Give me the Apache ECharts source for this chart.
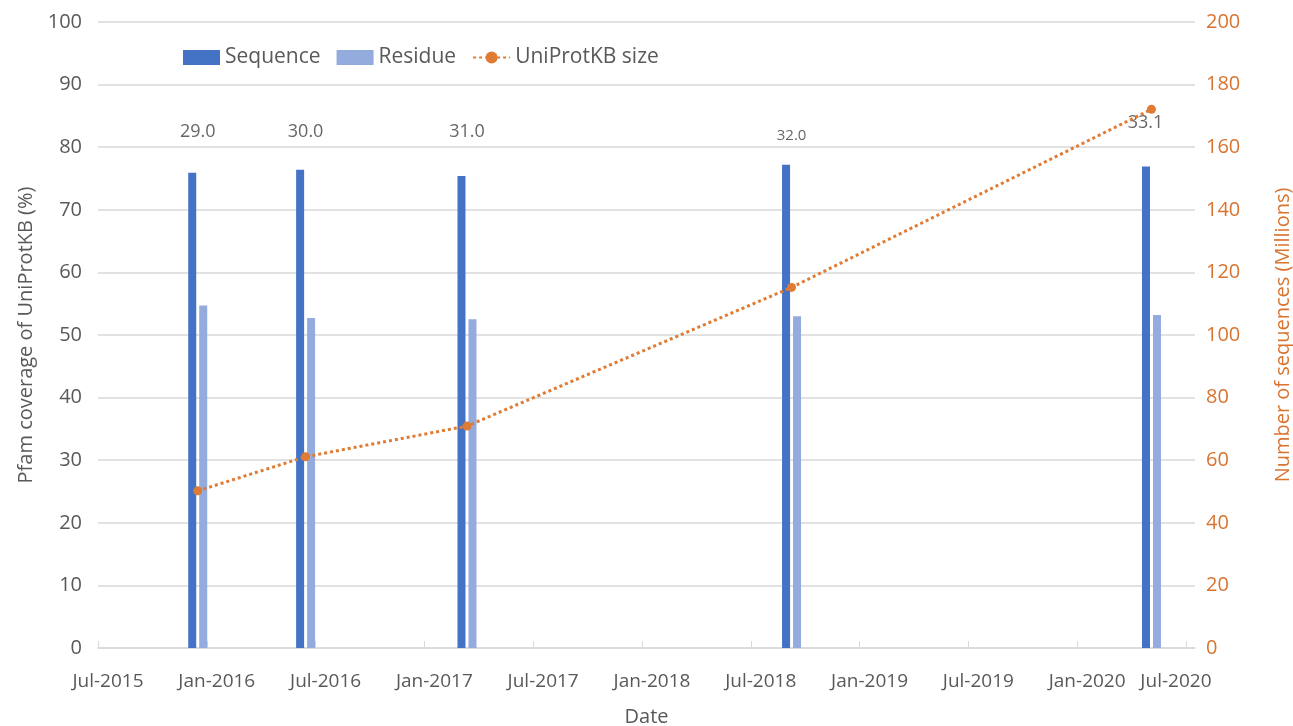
<!DOCTYPE html>
<html>
<head>
<meta charset="utf-8">
<script src="https://cdn.jsdelivr.net/npm/echarts@6/dist/echarts.min.js"></script>
<style>
  html, body { margin: 0; padding: 0; background: #fff; }
  #chart { width: 1293px; height: 726px; }
</style>
</head>
<body>
<div id="chart"></div>
<script>
// x positions are months counted from Jul-2015
const releaseMonths = [5.5, 11.45, 20.35, 38.25, 58.1]
const versionLabels = ['29.0', '30.0', '31.0', '32.0', '33.1']
const sequenceCoverage = [75.9, 76.4, 75.4, 77.2, 76.9]
const residueCoverage = [54.7, 52.7, 52.5, 53.0, 53.2]
const uniprotSize = [50.2, 61.1, 70.9, 115.2, 172.1]

const tickMonths = [0, 6, 12, 18, 24, 30, 36, 42, 48, 54, 60]
const tickLabels = ['Jul-2015', 'Jan-2016', 'Jul-2016', 'Jan-2017', 'Jul-2017', 'Jan-2018',
  'Jul-2018', 'Jan-2019', 'Jul-2019', 'Jan-2020', 'Jul-2020']

const labelLevel = 82.4

const grey = '#595959'
const orange = '#E07B33'
const orangeText = '#D8742F'
const seqColor = '#4472C4'
const resColor = '#93ABDD'
const fontFamily = '"Open Sans", "Noto Sans", sans-serif'

const chart = echarts.init(document.getElementById('chart'))

const pairs = (xs, ys) => xs.map((x, i) => [x, ys[i]])

// thin bars drawn through the axis scales, shifted left / right of the release date
const barRenderer = (offset, color) => (params, api) => {
  const top = api.coord([api.value(0), api.value(1)])
  const base = api.coord([api.value(0), 0])
  return {
    type: 'rect',
    shape: { x: top[0] + offset, y: top[1], width: 8, height: base[1] - top[1] },
    style: { fill: color }
  }
}

chart.setOption({
  animation: false,
  textStyle: { fontFamily },
  grid: { left: 98, right: 98, top: 22, bottom: 78, containLabel: false, outerBoundsMode: 'none' },
  legend: {
    left: 178,
    top: 42,
    itemWidth: 37,
    itemHeight: 15,
    itemGap: 16,
    textStyle: { fontSize: 21, color: grey },
    data: [
      { name: 'Sequence', icon: 'rect' },
      { name: 'Residue', icon: 'rect' },
      'UniProtKB size'
    ]
  },
  xAxis: {
    type: 'value',
    min: 0,
    max: 60.5,
    interval: 6,
    name: 'Date',
    nameLocation: 'middle',
    nameGap: 59,
    nameTextStyle: { fontSize: 20, color: grey },
    axisLine: { show: true, onZero: false, lineStyle: { color: '#D9D9D9', width: 1.5 } },
    axisTick: { show: true, inside: true, length: 7, lineStyle: { color: '#D9D9D9' }, customValues: tickMonths },
    splitLine: { show: false },
    axisLabel: {
      customValues: tickMonths,
      fontSize: 19,
      color: grey,
      margin: 24,
      padding: [0, 0, 0, 20],
      rich: {
        last: { fontSize: 19, color: grey, padding: [0, 40, 0, 0] }
      },
      formatter: (v) => {
        const i = tickMonths.indexOf(Math.round(v * 100) / 100)
        if (i < 0) return ''
        return i === tickLabels.length - 1 ? '{last|' + tickLabels[i] + '}' : tickLabels[i]
      }
    }
  },
  yAxis: [
    {
      type: 'value',
      min: 0,
      max: 100,
      interval: 10,
      name: 'Pfam coverage of UniProtKB (%)',
      nameLocation: 'middle',
      nameRotate: 90,
      nameGap: 51,
      nameTextStyle: { fontSize: 20, color: grey },
      axisLine: { show: false },
      axisTick: { show: false },
      axisLabel: { fontSize: 20, color: grey, margin: 16 },
      splitLine: { lineStyle: { color: '#D9D9D9', width: 1.5 } }
    },
    {
      type: 'value',
      min: 0,
      max: 200,
      interval: 20,
      name: 'Number of sequences (Millions)',
      nameLocation: 'middle',
      nameRotate: 90,
      nameGap: 78,
      nameTextStyle: { fontSize: 20, color: orangeText },
      axisLine: { show: false },
      axisTick: { show: false },
      axisLabel: { fontSize: 20, color: orangeText, margin: 11 },
      splitLine: { show: false }
    }
  ],
  series: [
    {
      name: 'Sequence',
      type: 'custom',
      itemStyle: { color: seqColor },
      renderItem: barRenderer(-9.5, seqColor),
      encode: { x: 0, y: 1 },
      data: pairs(releaseMonths, sequenceCoverage)
    },
    {
      name: 'Residue',
      type: 'custom',
      itemStyle: { color: resColor },
      renderItem: barRenderer(1.5, resColor),
      encode: { x: 0, y: 1 },
      data: pairs(releaseMonths, residueCoverage)
    },
    {
      name: 'UniProtKB size',
      type: 'line',
      yAxisIndex: 1,
      symbol: 'circle',
      symbolSize: 9,
      itemStyle: { color: orange },
      lineStyle: { color: orange, width: 3, type: [3, 3] },
      data: pairs(releaseMonths, uniprotSize)
    },
    {
      name: 'version',
      type: 'scatter',
      symbolSize: 0,
      silent: true,
      label: {
        show: true,
        position: 'inside',
        fontSize: 18,
        color: '#404040',
        formatter: (p) => versionLabels[p.dataIndex]
      },
      data: releaseMonths.map((m, i) => {
        const item = { value: [m, labelLevel] }
        if (i === 3) item.label = { fontSize: 15, offset: [0, 4] }
        if (i === 4) item.label = { offset: [-6, -9] }
        return item
      })
    }
  ]
})
</script>
</body>
</html>
